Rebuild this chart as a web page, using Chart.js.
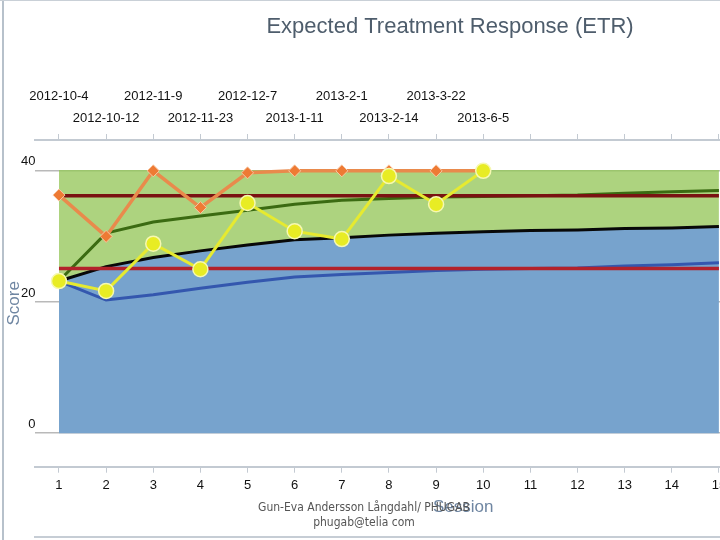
<!DOCTYPE html>
<html>
<head>
<meta charset="utf-8">
<script src="https://cdn.jsdelivr.net/npm/chart.js@4"></script>
<style>
  html, body { margin: 0; padding: 0; background: #fff; }
  body { position: relative; width: 720px; height: 540px; overflow: hidden; }
  #wrap { position: absolute; left: 0; top: 0; width: 900px; height: 540px; }
  .frame-left { position: absolute; left: 2px; top: 0; width: 2px; height: 540px; background: #b7c1cb; }
  .frame-top { position: absolute; left: 0; top: 0; width: 720px; height: 1px; background: #c9d0d7; }
  .frame-bottom { position: absolute; left: 34px; top: 536px; width: 686px; height: 2px; background: #c6cdd5; }
  .credit { position: absolute; left: 206px; top: 500px; width: 316px; text-align: center;
            font: 12px "Liberation Sans Narrow", "DejaVu Sans Condensed", sans-serif; color: #555; line-height: 15px; }
</style>
</head>
<body>
<div id="wrap"><canvas id="chart" width="900" height="540"></canvas></div>
<div class="frame-left"></div>
<div class="frame-top"></div>
<div class="frame-bottom"></div>
<div class="credit">Gun-Eva Andersson Långdahl/ PHUGAB<br>phugab@telia com</div>
<script>
const sessionTicks = [1, 2, 3, 4, 5, 6, 7, 8, 9, 10, 11, 12, 13, 14, 15, 16, 17, 18];
const sessions = [1, 2, 3, 4, 5, 6, 7, 8, 9, 10, 11, 12, 13, 14, 15];
const visitDates = ['2012-10-4', '2012-10-12', '2012-11-9', '2012-11-23', '2012-12-7',
                    '2013-1-11', '2013-2-1', '2013-2-14', '2013-3-22', '2013-6-5'];
const yTicks = [0, 20, 40];

// yellow circles and orange diamonds
const observedScore = [23.2, 21.7, 28.9, 25.0, 35.1, 30.8, 29.6, 39.2, 34.9, 40];
const alternateScore = [36.3, 30.0, 40, 34.4, 39.7, 40, 40, 40, 40, 40];
// expected trajectory (black) and its upper (green) / lower (blue) bounds
const expectedScore = [23.2, 25.4, 26.8, 27.8, 28.7, 29.5, 29.8, 30.2, 30.5, 30.7, 30.9, 31.0, 31.2, 31.3, 31.5];
const upperBound = [23.2, 30.5, 32.2, 33.1, 34.0, 34.9, 35.5, 35.8, 36.0, 36.1, 36.2, 36.3, 36.6, 36.8, 37.0];
const lowerBound = [23.2, 20.3, 21.1, 22.1, 23.0, 23.8, 24.2, 24.5, 24.8, 25.0, 25.1, 25.2, 25.5, 25.7, 26.0];
const upperLimit = 36.2;
const lowerLimit = 25.1;
const scoreCeiling = 40;

const toPoints = (ys) => ys.map((y, i) => ({ x: sessions[i], y: y }));
const flat = (v) => sessions.map(x => ({ x: x, y: v }));

const tickFont = { family: '"Liberation Sans", Arial, sans-serif', size: 13 };

new Chart(document.getElementById('chart').getContext('2d'), {
    type: 'line',
    data: {
        datasets: [
            { // 0
                data: toPoints(observedScore),
                borderColor: '#e6ea30', borderWidth: 3,
                pointRadius: 7.5, pointBackgroundColor: '#e8ec24',
                pointBorderColor: '#f6f8b0', pointBorderWidth: 1.5,
                fill: false
            },
            { // 1
                data: toPoints(alternateScore),
                borderColor: '#e98a4c', borderWidth: 3.5,
                pointStyle: 'rectRot', pointRadius: 6, pointBackgroundColor: '#ee7a34',
                pointBorderColor: '#f8c7a2', pointBorderWidth: 1,
                fill: false
            },
            { // 2
                data: flat(upperLimit),
                borderColor: '#7a1212', borderWidth: 3.5, pointRadius: 0, fill: false
            },
            { // 3
                data: flat(lowerLimit),
                borderColor: '#b3222b', borderWidth: 3.5, pointRadius: 0, fill: false
            },
            { // 4
                data: toPoints(expectedScore),
                borderColor: '#080808', borderWidth: 3, pointRadius: 0,
                fill: 'origin', backgroundColor: '#77a3cd'
            },
            { // 5
                data: toPoints(upperBound),
                borderColor: '#3b6b12', borderWidth: 3, pointRadius: 0, fill: false
            },
            { // 6
                data: toPoints(lowerBound),
                borderColor: '#3457ae', borderWidth: 3, pointRadius: 0, fill: false
            },
            { // 7
                data: flat(scoreCeiling),
                borderColor: '#9cc56e', borderWidth: 1.5, pointRadius: 0,
                fill: 4, backgroundColor: '#add37f'
            }
        ]
    },
    options: {
        responsive: false,
        animation: false,
        layout: { padding: { left: 0, right: 0, top: 0, bottom: 18 } },
        plugins: {
            legend: { display: false },
            tooltip: { enabled: false },
            filler: { drawTime: 'beforeDatasetsDraw' },
            title: {
                display: true,
                text: 'Expected Treatment Response (ETR)',
                color: '#4e5d6c',
                font: { family: '"Liberation Sans", Arial, sans-serif', size: 22, weight: 'normal', lineHeight: 1.2 },
                padding: { top: 14, bottom: 45.6 }
            }
        },
        scales: {
            x: {
                type: 'linear', position: 'bottom', min: 0.5, max: 18.65,
                afterBuildTicks: (axis) => { axis.ticks = sessionTicks.map(v => ({ value: v })); },
                afterFit: (axis) => { axis.height = 55.3; },
                ticks: { color: '#111', font: tickFont, padding: 4.5, maxRotation: 0, autoSkip: false },
                grid: { drawOnChartArea: false, drawTicks: true, tickLength: 6, color: '#c3cad2', lineWidth: 1 },
                border: { display: true, color: '#c3cad2', width: 2 },
                title: {
                    display: true, text: 'Session', color: '#6f86a2',
                    font: { family: '"Liberation Sans", Arial, sans-serif', size: 17 },
                    padding: { top: 0, bottom: 4 }
                }
            },
            xTop: {
                type: 'linear', position: 'top', min: 0.5, max: 18.65,
                afterBuildTicks: (axis) => { axis.ticks = sessionTicks.map(v => ({ value: v })); },
                afterFit: (axis) => { axis.height = 54; },
                ticks: {
                    color: '#111', font: Object.assign({ lineHeight: 22 / 13 }, tickFont),
                    padding: 5, maxRotation: 0, autoSkip: false,
                    callback: (v) => {
                        const d = visitDates[v - 1];
                        if (!d) return '';
                        return (v % 2 === 1) ? [d, ''] : ['', d];
                    }
                },
                grid: { drawOnChartArea: false, drawTicks: true, tickLength: 6, color: '#c3cad2', lineWidth: 1 },
                border: { display: true, color: '#c3cad2', width: 2 }
            },
            y: {
                min: -5.1, max: 44.7,
                afterBuildTicks: (axis) => { axis.ticks = yTicks.map(v => ({ value: v })); },
                afterFit: (axis) => { axis.width = 35.4; },
                ticks: { color: '#111', font: tickFont, padding: 0, labelOffset: -9 },
                grid: { drawTicks: false, color: '#b9b9b9', lineWidth: 1.5 },
                border: { display: false },
                title: {
                    display: true, text: 'Score', color: '#6f86a2',
                    font: { family: '"Liberation Sans", Arial, sans-serif', size: 17 },
                    padding: { top: 4, bottom: 0 }
                }
            }
        }
    }
});
</script>
</body>
</html>
